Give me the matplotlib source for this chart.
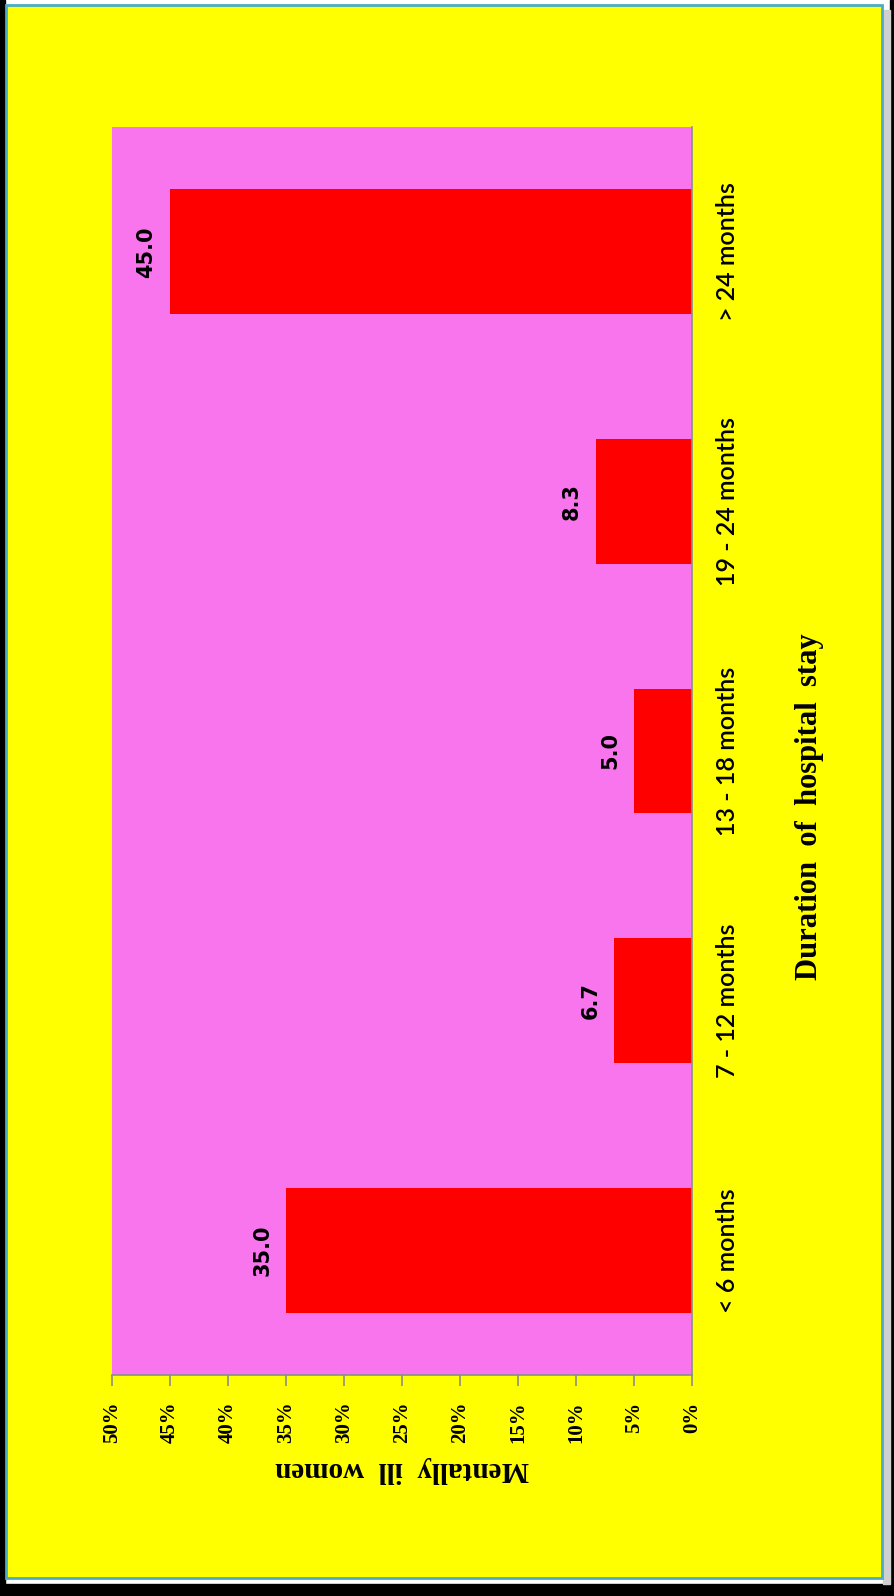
import matplotlib.pyplot as plt
from matplotlib.patches import Rectangle

# Duration of hospital stay vs share of mentally ill women (%)
categories = ['< 6 months', '7 - 12 months', '13 - 18 months', '19 - 24 months', '> 24 months']
values = [35.0, 6.7, 5.0, 8.3, 45.0]
ticks = [0, 5, 10, 15, 20, 25, 30, 35, 40, 45, 50]
tick_labels = [f'{t}%' for t in ticks]

W, H = 894, 1596
fig = plt.figure(figsize=(W / 100, H / 100), dpi=100, facecolor='white')


def box(x0, y0, x1, y1):
    # pixel box (top-left origin) -> figure fraction rect
    return [x0 / W, 1 - y1 / H, (x1 - x0) / W, (y1 - y0) / H]


def frame(x0, y0, x1, y1, **kw):
    l, b, w, h = box(x0, y0, x1, y1)
    fig.add_artist(Rectangle((l, b), w, h, transform=fig.transFigure, **kw))


# outer frame, shadow and yellow chart area
frame(0, 0, 5, H, color='black', zorder=0)
frame(890, 0, W, H, color='black', zorder=0)
frame(0, 1584, W, H, color='black', zorder=0)
frame(883, 10, 890, 1584, color='#d0d0d0', zorder=0)
frame(6, 5, 882, 1578, facecolor='yellow', edgecolor='#4bacc6', linewidth=2, zorder=0)

ax = fig.add_axes(box(112, 127, 692, 1375))
ax.set_facecolor('#f875ee')

pos = range(len(categories))
ax.barh(pos, values, height=0.5, color='red', zorder=2)

ax.set_xlim(50, 0)
ax.set_ylim(-0.5, len(categories) - 0.5)

for s in ['top', 'left']:
    ax.spines[s].set_visible(False)
for s in ['bottom', 'right']:
    ax.spines[s].set_color('#8c8c8c')
    ax.spines[s].set_linewidth(1.2)

ax.set_xticks(ticks)
ax.set_xticklabels(tick_labels, rotation=90, family='Liberation Serif', fontsize=15,
                   fontweight='bold')
ax.tick_params(axis='x', direction='out', length=8, width=1.2, color='#8c8c8c', pad=11)

ax.yaxis.tick_right()
ax.set_yticks(list(pos))
ax.set_yticklabels(categories, rotation=90, va='center', ha='left', family='Lato', fontsize=18,
                   fontweight='semibold')
ax.tick_params(axis='y', length=0, pad=17)

for i, v in enumerate(values):
    ax.annotate(f'{v:.1f}', xy=(v, i), xytext=(-10, 0), textcoords='offset points',
                rotation=90, ha='right', va='center', fontsize=15, fontweight='bold',
                family='DejaVu Sans')

fig.text(402 / W, 1 - 1470 / H, 'Mentally  ill  women', rotation=180, ha='center', va='center',
         family='Liberation Serif', fontweight='bold', fontsize=21)
fig.text(809 / W, 1 - 807 / H, 'Duration  of  hospital  stay', rotation=90, ha='center', va='center',
         family='Liberation Serif', fontweight='bold', fontsize=22)

fig.savefig('out.png', dpi=100, facecolor=fig.get_facecolor())
